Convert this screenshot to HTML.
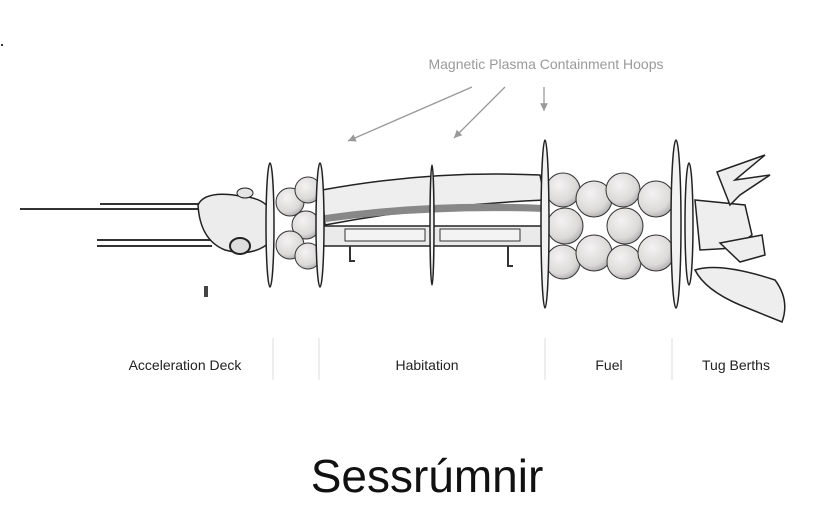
<!DOCTYPE html>
<html><head><meta charset="utf-8"><style>
html,body{margin:0;padding:0;background:#fff;}
svg{display:block;}
text{font-family:"Liberation Sans",sans-serif;}
</style></head><body>
<svg width="840" height="524" viewBox="0 0 840 524" xmlns="http://www.w3.org/2000/svg">
<defs>
<radialGradient id="sp" cx="0.4" cy="0.35" r="0.7"><stop offset="0" stop-color="#f4f2f2"/><stop offset="0.7" stop-color="#dcd9d9"/><stop offset="1" stop-color="#aaa"/></radialGradient>
<marker id="ah" markerWidth="8" markerHeight="8" refX="6" refY="3" orient="auto"><path d="M0,0 L6,3 L0,6 z" fill="#999"/></marker>
</defs>
<rect x="1" y="44" width="2" height="2" fill="#333"/>
<text x="546" y="69" font-size="14" fill="#9a9a9a" text-anchor="middle">Magnetic Plasma Containment Hoops</text>
<g stroke="#999" stroke-width="1.3" marker-end="url(#ah)">
<line x1="472" y1="87" x2="348" y2="141"/>
<line x1="505" y1="87" x2="454" y2="138"/>
<line x1="544" y1="87" x2="544" y2="111"/>
</g>
<!-- antennae -->
<g stroke="#333" stroke-width="2" fill="none">
<line x1="20" y1="209" x2="205" y2="209"/>
<line x1="100" y1="204" x2="205" y2="204"/>
<line x1="97" y1="240" x2="212" y2="240"/>
<line x1="97" y1="246" x2="212" y2="246"/>
</g>
<!-- front body -->
<path d="M198,205 Q205,190 240,196 Q268,198 272,215 L272,240 Q255,258 225,250 Q200,240 198,205 Z" fill="#ececec" stroke="#222" stroke-width="1.5"/>
<ellipse cx="245" cy="193" rx="8" ry="5" fill="#e5e5e5" stroke="#222"/>
<ellipse cx="240" cy="246" rx="10" ry="8" fill="#ddd" stroke="#222" stroke-width="2"/>
<!-- habitation -->
<path d="M322,190 Q430,170 540,175 L545,200 Q430,205 325,225 Z" fill="#eee" stroke="#222" stroke-width="1.5"/>
<path d="M325,215 Q430,200 545,205 L545,212 Q430,208 325,222 Z" fill="#888"/>
<rect x="322" y="226" width="225" height="20" fill="#eaeaea" stroke="#222" stroke-width="1.5"/>
<rect x="345" y="229" width="80" height="12" fill="#f3f3f3" stroke="#333"/>
<rect x="440" y="229" width="80" height="12" fill="#f3f3f3" stroke="#333"/>
<path d="M350,246 v15 h5" stroke="#333" stroke-width="2" fill="none"/>
<path d="M508,246 v20 h5" stroke="#333" stroke-width="2" fill="none"/>
<!-- small spheres -->
<g fill="url(#sp)" stroke="#333" stroke-width="1">
<circle cx="290" cy="202" r="14"/><circle cx="308" cy="190" r="13"/><circle cx="306" cy="225" r="14"/>
<circle cx="290" cy="245" r="14"/><circle cx="308" cy="256" r="13"/>
</g>
<!-- fuel spheres -->
<g fill="url(#sp)" stroke="#333" stroke-width="1">
<circle cx="563" cy="190" r="17"/><circle cx="594" cy="199" r="18"/><circle cx="623" cy="190" r="17"/><circle cx="656" cy="199" r="18"/>
<circle cx="565" cy="226" r="18"/><circle cx="625" cy="226" r="18"/>
<circle cx="595" cy="235" r="1" stroke="none"/>
<circle cx="563" cy="262" r="17"/><circle cx="594" cy="253" r="18"/><circle cx="624" cy="262" r="17"/><circle cx="656" cy="253" r="18"/>
</g>
<!-- tug -->
<path d="M695,200 L745,205 L752,235 L735,248 L700,250 Z" fill="#eee" stroke="#222" stroke-width="1.5"/>
<path d="M717,172 L765,155 L735,180 L770,175 L740,195 L730,205 Z" fill="#eee" stroke="#222" stroke-width="1.5"/>
<path d="M720,243 L762,235 L765,255 L740,262 Z" fill="#eee" stroke="#222" stroke-width="1.5"/>
<path d="M695,270 Q720,262 775,280 Q790,300 782,322 L740,305 Q705,290 695,270 Z" fill="#eee" stroke="#222" stroke-width="1.5"/>
<!-- hoops -->
<g fill="#f2f2f2" stroke="#222" stroke-width="1.5">
<ellipse cx="270" cy="225" rx="4" ry="62"/>
<ellipse cx="320" cy="225" rx="4" ry="62"/>
<ellipse cx="432" cy="225" rx="2" ry="60"/>
<ellipse cx="545" cy="224" rx="4" ry="84"/>
<ellipse cx="676" cy="224" rx="5" ry="84"/>
<ellipse cx="689" cy="224" rx="4" ry="61"/>
</g>
<!-- person -->
<rect x="204" y="286" width="4" height="11" fill="#444"/>
<!-- separators -->
<g stroke="#ddd" stroke-width="1">
<line x1="273" y1="338" x2="273" y2="380"/><line x1="319" y1="338" x2="319" y2="380"/>
<line x1="545" y1="338" x2="545" y2="380"/><line x1="672" y1="338" x2="672" y2="380"/>
</g>
<g font-size="14" fill="#222" text-anchor="middle">
<text x="185" y="370">Acceleration Deck</text>
<text x="427" y="370">Habitation</text>
<text x="609" y="370">Fuel</text>
<text x="736" y="370">Tug Berths</text>
</g>
<text x="427" y="492" font-size="46" fill="#111" text-anchor="middle">Sessrúmnir</text>
</svg>
</body></html>
